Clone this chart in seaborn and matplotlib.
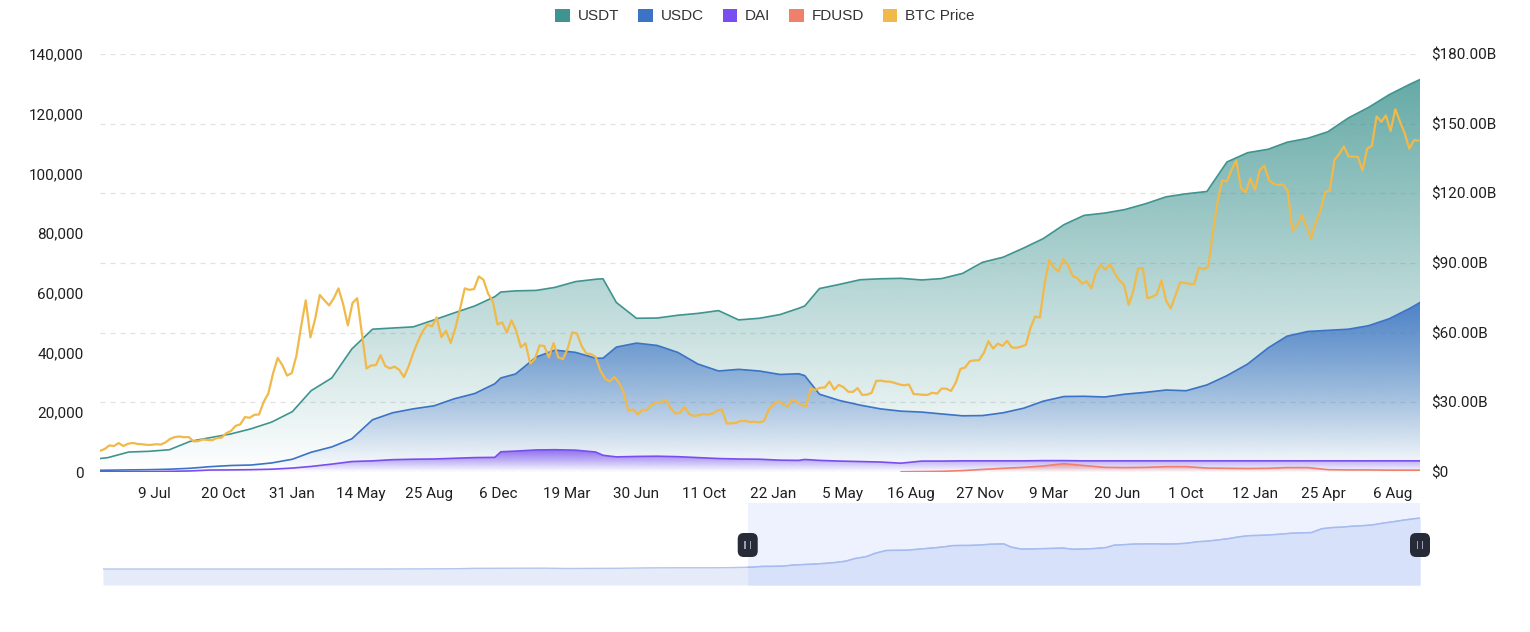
import numpy as np
import pandas as pd
import matplotlib
matplotlib.use("Agg")
import matplotlib.pyplot as plt
import matplotlib.dates as mdates
import seaborn as sns
from matplotlib.patches import Patch, FancyBboxPatch, Rectangle
from matplotlib.transforms import IdentityTransform
from matplotlib.colors import to_rgb
from matplotlib.ticker import FixedLocator, FuncFormatter

# --------------------------------------------------------------------------------
# Dados
# --------------------------------------------------------------------------------

stable_dates = [
    "2020-04-19", "2020-05-01", "2020-06-01", "2020-07-01", "2020-08-01", "2020-09-01",
    "2020-10-01", "2020-11-01", "2020-12-01",
    "2021-01-01", "2021-02-01", "2021-03-01", "2021-04-01", "2021-05-01", "2021-06-01",
    "2021-07-01", "2021-08-01", "2021-09-01", "2021-10-01", "2021-11-01", "2021-12-01", "2021-12-10",
    "2022-01-01", "2022-02-01", "2022-03-01", "2022-04-01", "2022-05-01", "2022-05-12", "2022-06-01",
    "2022-07-01", "2022-08-01", "2022-09-01", "2022-10-01", "2022-11-01", "2022-12-01",
    "2023-01-01", "2023-02-01", "2023-03-01", "2023-03-10", "2023-04-01", "2023-05-01", "2023-06-01",
    "2023-07-01", "2023-08-01", "2023-09-01", "2023-10-01", "2023-11-01", "2023-12-01",
    "2024-01-01", "2024-02-01", "2024-03-01", "2024-04-01", "2024-05-01", "2024-06-01",
    "2024-07-01", "2024-08-01", "2024-09-01", "2024-10-01", "2024-11-01", "2024-12-01",
    "2025-01-01", "2025-02-01", "2025-03-01", "2025-04-01", "2025-05-01", "2025-06-01",
    "2025-07-01", "2025-08-01", "2025-09-01", "2025-09-16",
]

# market cap em bilhões de USD
usdt = [
    5.8, 6.2, 8.6, 8.9, 9.6, 13.2, 14.8, 16.4, 18.6,
    21.5, 26.0, 35.0, 40.5, 53.0, 61.5, 62.0, 62.5, 65.5, 68.5, 71.5, 75.5, 77.5,
    78.0, 78.2, 79.5, 82.0, 83.0, 83.2, 73.0, 66.2, 66.3, 67.5, 68.3, 69.5, 65.5,
    66.2, 67.8, 70.5, 71.5, 79.0, 80.8, 82.8, 83.2, 83.4, 82.7, 83.3, 85.5, 90.3,
    92.5, 96.5, 100.5, 106.5, 110.5, 111.5, 113.0, 115.5, 118.5, 119.8, 120.8, 133.5,
    137.5, 139.0, 142.0, 143.7, 146.5, 152.5, 157.0, 162.5, 167.0, 169.0,
]
usdc = [
    0.75, 0.78, 0.9, 1.0, 1.2, 1.6, 2.3, 2.8, 3.0,
    3.9, 5.5, 8.5, 10.8, 14.3, 22.5, 25.5, 27.2, 28.5, 31.5, 33.8, 38.0, 40.5,
    42.2, 49.5, 52.5, 51.5, 49.0, 49.0, 53.8, 55.5, 54.5, 51.5, 46.5, 43.5, 44.2,
    43.5, 42.0, 42.3, 41.5, 33.5, 30.8, 28.8, 27.2, 26.2, 25.8, 25.0, 24.2, 24.3,
    25.5, 27.5, 30.5, 32.5, 32.6, 32.3, 33.5, 34.3, 35.3, 35.0, 37.5, 41.5,
    46.5, 53.5, 58.5, 60.5, 61.0, 61.5, 63.0, 66.0, 70.5, 73.0,
]
dai = [
    0.12, 0.12, 0.13, 0.15, 0.3, 0.45, 0.85, 0.9, 1.0,
    1.2, 1.7, 2.4, 3.4, 4.5, 4.8, 5.3, 5.5, 5.6, 5.9, 6.2, 6.3, 8.7,
    9.0, 9.5, 9.6, 9.4, 8.6, 7.2, 6.5, 6.7, 6.8, 6.6, 6.2, 5.8, 5.6,
    5.5, 5.1, 5.0, 5.4, 5.0, 4.7, 4.5, 4.3, 3.8, 4.7, 4.7, 4.8, 4.8,
    4.8, 4.8, 4.9, 4.9, 4.8, 4.8, 4.8, 4.8, 4.8, 4.8, 4.8, 4.8,
    4.8, 4.8, 4.8, 4.8, 4.8, 4.8, 4.8, 4.8, 4.8, 4.8,
]
nan = float("nan")
fdusd = [
    nan, nan, nan, nan, nan, nan, nan, nan, nan,
    nan, nan, nan, nan, nan, nan, nan, nan, nan, nan, nan, nan, nan,
    nan, nan, nan, nan, nan, nan, nan, nan, nan, nan, nan, nan, nan,
    nan, nan, nan, nan, nan, nan, nan, nan, 0.1, 0.2, 0.3, 0.6, 1.1,
    1.6, 2.0, 2.6, 3.6, 2.8, 2.0, 1.9, 2.0, 2.3, 2.3, 1.7, 1.6,
    1.5, 1.6, 1.9, 1.9, 1.0, 0.9, 0.9, 0.8, 0.8, 0.8,
]

# histórico antigo do USDT (só aparece no slider)
usdt_early_dates = [
    "2015-02-10", "2016-01-01", "2017-01-01", "2017-06-01", "2017-09-01", "2017-12-01",
    "2018-01-01", "2018-02-01", "2018-06-01", "2018-09-01", "2018-11-01", "2019-01-01",
    "2019-04-01", "2019-07-01", "2019-10-01", "2020-01-01", "2020-03-01", "2020-04-01",
]
usdt_early = [0.0, 0.0, 0.01, 0.1, 0.4, 0.9, 1.4, 2.2, 2.6, 2.8, 1.8, 2.0,
              2.4, 3.8, 4.1, 4.1, 4.7, 5.5]

# preço semanal do BTC a partir de 19/04/2020
btc_start = "2020-04-19"
btc_price = [
    # 2020
    7100, 7700, 8900, 8700, 9700, 8700, 9450, 9750, 9400, 9300, 9100, 9100, 9300,
    9200, 9900, 11100, 11700, 11900, 11650, 11700, 10250, 10350, 10900, 10750, 10650,
    11400, 11500, 13000, 13750, 15450, 15950, 18400, 18150, 19150, 19250, 23450, 26300,
    # 2021
    33000, 38200, 35800, 32300, 33100, 38900, 48700, 57500, 45100, 51200, 59300, 57500,
    55800, 58200, 61500, 56200, 49100, 56600, 58200, 46400, 34700, 35700, 35800, 39100,
    35500, 34700, 35300, 34200, 31800, 35400, 39900, 43800, 47100, 49300, 48800, 51800,
    45200, 47300, 43200, 48200, 54700, 61500, 61000, 61300, 65500, 64400, 59700, 57200,
    49400, 50100, 46700, 50800,
    # 2022
    47300, 41800, 43100, 36300, 37900, 42400, 42200, 38400, 43200, 38400, 37800, 41300,
    46800, 46400, 42200, 39700, 39500, 38500, 34000, 31300, 30300, 31800, 29900, 26600,
    20500, 21000, 19300, 20800, 20800, 22600, 23300, 23200, 24300, 21500, 19600, 19800,
    21800, 19400, 18800, 19000, 19400, 19250, 19550, 20600, 20900, 16300, 16280, 16450,
    17100, 17100, 16750, 16850,
    # 2023
    16600, 17100, 20900, 22700, 23700, 22900, 21800, 24300, 23500, 22400, 22100, 28000,
    27500, 28200, 28300, 30300, 27600, 29200, 28400, 26900, 26800, 28100, 25800, 25900,
    26500, 30500, 30600, 30300, 30250, 29800, 29300, 29050, 29300, 26100, 26000, 25850,
    25850, 26550, 26250, 27950, 27900, 27150, 29900, 34500, 35000, 37100, 37400, 37450,
    39900, 43800, 41350, 43000, 42250,
    # 2024
    43900, 41700, 41600, 42000, 42600, 48300, 52100, 51700, 63100, 71000, 68400, 67200,
    71300, 69400, 65700, 64900, 63100, 63900, 61500, 66900, 69300, 67800, 69600, 66600,
    64200, 62700, 55900, 60800, 68200, 68300, 58200, 58700, 59500, 64200, 57300, 54800,
    59200, 63600, 63300, 63000, 62900, 68400, 67900, 68700, 80400, 90600, 97700, 97300,
    101200, 104300, 95100, 93700,
    # 2025
    98300, 94500, 101100, 102600, 97700, 96500, 96100, 96300, 94200, 80700, 82600, 86100,
    82300, 78300, 83700, 87500, 93800, 94300, 104600, 106500, 109000, 105700, 105600,
    105500, 101000, 108400, 109200, 119100, 117300, 119400, 114200, 121500, 117400,
    113500, 108300, 111100, 111000,
]

tick_dates = pd.date_range("2020-07-09", periods=19, freq="103D")
view_start, view_end = "2020-04-19", "2025-09-16"

series_colors = {"USDT": "#3f9490", "USDC": "#3b73c6", "DAI": "#7a4df0",
                 "FDUSD": "#f0806a", "BTC Price": "#f0b94a"}

# --------------------------------------------------------------------------------
# Preparação
# --------------------------------------------------------------------------------

stable = pd.DataFrame({"date": pd.to_datetime(stable_dates), "USDT": usdt,
                       "USDC": usdc, "DAI": dai, "FDUSD": fdusd})
stable["x"] = mdates.date2num(stable["date"])

btc = pd.DataFrame({"date": pd.date_range(btc_start, periods=len(btc_price), freq="7D"),
                    "price": btc_price})
btc["x"] = mdates.date2num(btc["date"])

x0 = mdates.date2num(pd.Timestamp(view_start))
x1 = mdates.date2num(pd.Timestamp(view_end))


def gradient_area(ax, x, y, color, top_alpha, z):
    """Área com degradê vertical (topo da série -> transparente em zero)."""
    x = np.asarray(x, float)
    y = np.asarray(y, float)
    poly = ax.fill_between(x, 0, y, facecolor="none", edgecolor="none", linewidth=0, zorder=z)
    grad = np.zeros((256, 1, 4))
    grad[..., :3] = to_rgb(color)
    grad[..., 3] = np.linspace(0.0, top_alpha, 256)[:, None]
    im = ax.imshow(grad, aspect="auto", origin="lower", interpolation="bilinear",
                   extent=[x.min(), x.max(), 0, y.max()], zorder=z)
    im.set_clip_path(poly.get_paths()[0], transform=ax.transData)


# --------------------------------------------------------------------------------
# Gráfico
# --------------------------------------------------------------------------------

sns.set_theme(style="white")
plt.rcParams["font.family"] = ["Roboto", "DejaVu Sans"]

W, H = 1530, 632
fig = plt.figure(figsize=(W / 100, H / 100), dpi=100)
ax = fig.add_axes([100 / W, 1 - 472 / H, 1320 / W, 418 / H])   # BTC (esquerda)
ax2 = ax.twinx()                                                # stablecoins (direita)
ax.set_zorder(ax2.get_zorder() + 1)
ax.patch.set_visible(False)

fills = [("USDT", 0.80, 2), ("USDC", 0.85, 4), ("DAI", 0.80, 6), ("FDUSD", 0.65, 8)]
for name, alpha, z in fills:
    sub = stable.dropna(subset=[name])
    gradient_area(ax2, sub["x"], sub[name], series_colors[name], alpha, z)
    sns.lineplot(data=sub, x="x", y=name, ax=ax2, color=series_colors[name],
                 linewidth=1.2, legend=False, zorder=z + 1)

sns.lineplot(data=btc, x="x", y="price", ax=ax, color=series_colors["BTC Price"],
             linewidth=1.6, legend=False, zorder=10)

ax.set_xlim(x0, x1)
ax2.set_xlim(x0, x1)
ax.set_ylim(0, 140000)
ax2.set_ylim(0, 180)
ax.set_yticks(np.arange(0, 140001, 20000))
ax2.set_yticks(np.arange(0, 181, 30))
ax.yaxis.set_major_formatter(FuncFormatter(lambda v, _: f"{v:,.0f}"))
ax2.yaxis.set_major_formatter(FuncFormatter(lambda v, _: "$0" if v == 0 else f"${v:.2f}B"))
ax.xaxis.set_major_locator(FixedLocator(mdates.date2num(tick_dates)))
ax.xaxis.set_major_formatter(mdates.DateFormatter("%-d %b"))

for a in (ax, ax2):
    a.set_xlabel("")
    a.set_ylabel("")
    for s in a.spines.values():
        s.set_visible(False)
    a.tick_params(length=0, labelsize=11, labelcolor="#1f1f1f")
ax.tick_params(axis="y", pad=12)
ax.tick_params(axis="x", pad=11)
ax2.tick_params(axis="y", pad=8)

ax2.set_axisbelow(True)
ax2.yaxis.grid(True, linestyle=(0, (4, 4)), color="#e2e2e2", linewidth=0.9)
ax2.xaxis.grid(False)
ax.grid(False)

# legenda
handles = [Patch(facecolor=c, edgecolor="none", label=n) for n, c in series_colors.items()]
fig.legend(handles=handles, loc="center", bbox_to_anchor=(0.5, 1 - 16 / H), ncol=5,
           frameon=False, handlelength=0.95, handleheight=0.95, handletextpad=0.5,
           columnspacing=1.25, prop={"family": ["Liberation Sans"], "size": 11},
           labelcolor="#333333")

# --------------------------------------------------------------------------------
# Slider (dataZoom)
# --------------------------------------------------------------------------------

slider = pd.concat([
    pd.DataFrame({"date": pd.to_datetime(usdt_early_dates), "v": usdt_early}),
    stable[["date", "USDT"]].rename(columns={"USDT": "v"}),
], ignore_index=True)
slider["x"] = mdates.date2num(slider["date"])

sax = fig.add_axes([103 / W, 1 - 585 / H, 1317 / W, 82 / H])
sax.set_axis_off()
s_lo, s_hi = -53, 219
sax.axvspan(x0, x1, color="#eef2fe", lw=0, zorder=0)
sax.fill_between(slider["x"], s_lo, slider["v"], color="#e5ebf8", lw=0, zorder=1)
sns.lineplot(data=slider, x="x", y="v", ax=sax, color="#b3c4ee", linewidth=1.0,
             legend=False, zorder=2)
sel = slider[slider["x"] >= x0]
sax.fill_between(sel["x"], s_lo, sel["v"], color="#d7e1fa", lw=0, zorder=3)
sns.lineplot(data=sel, x="x", y="v", ax=sax, color="#a6bbf0", linewidth=1.1,
             legend=False, zorder=4)
sax.set_xlim(slider["x"].min(), x1)
sax.set_ylim(s_lo, s_hi)
sax.set_axis_off()

hy = H - 545
for xe in (x0, x1):
    hx = sax.transData.transform((xe, 0))[0]
    fig.add_artist(FancyBboxPatch((hx - 10, hy - 12), 20, 24,
                                  boxstyle="round,pad=0,rounding_size=6",
                                  fc="#272b38", ec="none", transform=IdentityTransform()))
    for dx in (-3.4, 1.8):
        fig.add_artist(Rectangle((hx + dx, hy - 4), 1.6, 8, fc="#9aa0b0", ec="none",
                                 transform=IdentityTransform()))

fig.savefig("out.png", dpi=100)
